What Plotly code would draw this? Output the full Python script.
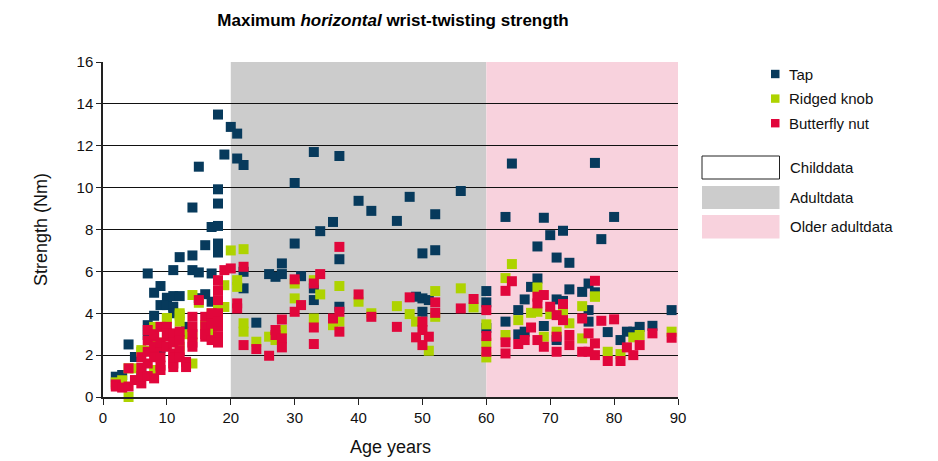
"""Maximum horizontal wrist-twisting strength by age, three grip types."""

import plotly.graph_objects as go

# --- data (age in years, strength in Nm) ---
tap_age = [2, 3, 4, 5, 6, 7, 7, 7, 8, 8, 9, 9, 9, 10, 10, 11, 11, 11, 11, 12, 12,
           13, 14, 14, 14, 15, 15, 15, 16, 16, 17, 17, 17, 18, 18, 18, 18, 18, 18, 19, 20,
           21, 21, 22, 22, 22, 24, 26, 27, 28, 28, 30, 30, 31, 33, 33, 33, 34, 36,
           37, 37, 37, 40, 42, 46, 48, 49, 50, 50, 50, 51, 52, 52, 56, 60, 60, 60,
           63, 63, 64, 65, 65, 66, 66, 67, 68, 68, 69, 69, 70, 71, 71, 71, 72, 72,
           73, 73, 75, 76, 76, 76, 77, 77, 78, 79, 80, 81, 82, 83, 84, 86, 89]
tap_val = [0.97, 1.05, 2.51, 1.91, 1.16, 3.43, 2.96, 5.9, 3.88, 4.98, 5.3, 4.39, 2.34, 4.74, 4.39,
           4.82, 4.31, 6.06, 4.0, 4.82, 6.68, 3.35, 9.05, 6.76, 6.06, 11.0, 5.95, 4.72, 7.25,
           4.91, 8.12, 5.9, 4.55, 13.49, 9.92, 9.24, 8.17, 7.33, 6.9, 11.58, 12.9,
           12.58, 11.39, 11.08, 5.98, 5.19, 3.55, 5.87, 5.74, 5.87, 6.38, 10.22, 7.33, 5.77,
           11.7, 5.19, 4.63, 7.92, 8.36, 11.51, 6.58, 4.31, 9.37, 8.89, 8.41, 9.56, 4.79,
           4.71, 6.86, 4.07, 4.63, 8.73, 7.01, 9.84, 5.06, 4.52, 3.3,
           8.6, 3.6, 11.15, 4.15, 2.99, 4.66, 3.12, 5.26, 7.19, 5.66, 8.56, 3.39, 7.73,
           6.66, 4.66, 2.72, 7.94, 4.59, 6.41, 5.14, 5.02, 5.42, 3.6, 4.15, 11.18, 5.0,
           7.54, 3.1, 8.6, 2.72, 3.12, 3.12, 3.35, 3.4, 4.15]

knob_age = [2, 3, 4, 4, 5, 6, 6, 7, 8, 8, 8, 9, 10, 10, 11, 12, 12, 12, 12, 13, 14, 14,
            14, 15, 16, 17, 17, 18, 19, 19, 20,
            21, 21, 22, 22, 22, 24, 26, 27, 28, 30, 30, 33, 33, 34, 36, 37, 37, 40,
            42, 46, 48, 49, 51, 52, 52, 56, 58, 60, 60, 60,
            63, 63, 64, 65, 67, 68, 68, 69, 70, 71, 72, 73, 75, 75, 77, 77, 79, 81,
            83, 84, 89]
knob_val = [0.7, 0.8, 1.37, 0.0, 1.37, 2.16, 2.24, 2.2, 3.35, 2.6, 1.29, 2.6, 3.75, 3.77,
            2.9, 3.9, 3.6, 4.0, 2.4, 3.0, 2.88, 1.6, 4.87, 4.5, 3.43, 4.0, 3.2, 4.31,
            5.34, 4.3, 7.0,
            5.58, 5.26, 7.06, 3.52, 3.12, 2.64, 2.88, 2.72, 3.2, 5.42, 4.71, 5.58, 3.75,
            4.9, 3.43, 5.3, 3.6, 4.55, 4.0, 4.34, 3.96, 3.6, 2.21, 5.06, 3.83, 5.19,
            4.28, 3.47, 2.59, 1.89,
            5.68, 2.96, 6.35, 3.67, 4.02, 5.23, 4.07, 2.88, 3.96, 3.12, 3.99, 3.52,
            4.34, 2.8, 4.79, 4.8, 2.16, 2.05, 2.85, 2.96, 3.12]

nut_age = [2, 2, 3, 4, 4, 5, 6, 6, 6, 6, 7, 7, 7, 7, 7, 8, 8, 8, 8, 8, 8, 9, 9, 9, 9, 9, 9,
           10, 10, 10, 10, 11, 11, 11, 11, 11, 11, 12, 12, 12, 12, 13, 13, 14, 14, 14, 14,
           14, 15, 16, 16, 16, 16, 17, 17, 17, 17, 18, 18, 18, 18, 18, 18, 18, 18, 19, 20,
           21, 21, 22, 22, 24, 26, 27, 27, 28, 28, 28, 30, 30, 31, 33, 33, 33, 34,
           36, 37, 37, 37, 40, 42, 46, 48, 49, 50, 50, 50, 51, 52, 52, 56, 58, 60,
           60, 60,
           63, 63, 63, 64, 65, 66, 67, 68, 68, 68, 69, 69, 70, 71, 71, 71, 72, 72,
           73, 73, 75, 75, 76, 76, 77, 77, 77, 78, 79, 80, 81, 82, 83, 84, 86, 89]
nut_val = [0.6, 0.5, 0.45, 0.5, 1.37, 0.81, 0.65, 1.9, 1.0, 1.4, 2.16, 1.6, 2.7, 3.2, 1.0,
           2.88, 2.16, 0.89, 2.4, 3.0, 1.9, 2.4, 1.29, 3.35, 2.6, 1.9, 1.5,
           3.35, 2.88, 2.4, 3.04, 3.04, 2.08, 1.6, 2.6, 1.43, 1.9, 3.12, 2.72, 2.24, 1.9,
           1.68, 1.43, 3.83, 3.35, 3.0, 2.6, 2.4, 4.63, 3.83, 3.35, 2.88, 3.0,
           3.83, 2.72, 4.0, 3.5, 5.58, 5.1, 4.63, 3.35, 2.88, 4.0, 3.6, 2.6, 6.06, 6.14,
           4.47, 4.23, 6.22, 2.48, 2.29, 1.97, 3.2, 2.96, 3.7, 2.8, 2.37, 5.62, 4.07,
           4.39, 5.42, 3.32, 2.53, 5.87, 3.75, 7.17, 4.07, 3.12, 4.9, 3.83, 3.35, 4.76,
           2.85, 3.6, 3.2, 2.48, 2.88, 4.52, 4.02, 4.23, 4.68, 4.15, 2.91, 2.16,
           5.07, 2.61, 2.08, 5.53, 2.53, 2.72, 3.32, 4.79, 4.47, 2.72, 4.87, 2.4, 4.31,
           3.91, 2.88, 2.16, 4.44, 3.67, 2.96, 2.48, 3.75, 2.16, 3.04, 2.16, 5.55, 2.56,
           2.0, 3.64, 1.72, 3.71, 1.72, 2.37, 2.0, 2.48, 3.04, 2.83]

groups = ["Childdata", "Adultdata", "Older adultdata"]
group_ranges = [(0, 20), (20, 60), (60, 90)]
group_fill = ["white", "#cccccc", "#f8d2dd"]

series = [
    ("Tap", tap_age, tap_val, "#073a5c"),
    ("Ridged knob", knob_age, knob_val, "#aed300"),
    ("Butterfly nut", nut_age, nut_val, "#e1063b"),
]

FONT = "Liberation Sans, Arial, Helvetica, sans-serif"
OFF = 8  # page body margin
W, H = 938, 461
PL, PT, PW, PH = 103, 62, 575, 335  # plot area in page pixels
L, T = PL - OFF, PT - OFF
R, B = W - L - PW, H - T - PH


def px(x):
    return (x - PL) / PW


def py(y):
    return (PT + PH - y) / PH


fig = go.Figure()
for name, ages, vals, color in series:
    fig.add_trace(go.Scatter(
        x=ages, y=vals, mode="markers", name=name, showlegend=False,
        marker=dict(symbol="square", size=10, color=color, line=dict(width=0)),
        cliponaxis=False,
    ))

# age-group background bands
for (x0, x1), fill in zip(group_ranges, group_fill):
    if fill == "white":
        continue
    fig.add_shape(type="rect", xref="x", yref="y", x0=x0, x1=x1, y0=0, y1=16,
                  fillcolor=fill, line=dict(width=0), layer="below")

# marker legend
for i, (name, _, _, color) in enumerate(series):
    cy = 74 + i * 24.6
    fig.add_shape(type="rect", xref="paper", yref="paper",
                  x0=px(771), x1=px(779.5), y0=py(cy - 4.2), y1=py(cy + 4.2),
                  fillcolor=color, line=dict(width=0))
    fig.add_annotation(text=name, xref="paper", yref="paper", x=px(787), y=py(cy),
                       xanchor="left", yanchor="middle", showarrow=False,
                       font=dict(size=15, color="#111"))

# band legend
box_y = [(156, 179), (186, 209), (215, 238.5)]
for name, fill, (y0, y1) in zip(groups, group_fill, box_y):
    fig.add_shape(type="rect", xref="paper", yref="paper",
                  x0=px(702), x1=px(779.5), y0=py(y1), y1=py(y0), fillcolor=fill,
                  line=dict(width=1 if fill == "white" else 0, color="#222"))
    fig.add_annotation(text=name, xref="paper", yref="paper", x=px(788),
                       y=py((y0 + y1) / 2), xanchor="left", yanchor="middle",
                       showarrow=False, font=dict(size=15, color="#111"))

fig.update_layout(
    width=W, height=H,
    margin=dict(l=L, r=R, t=T, b=B),
    paper_bgcolor="white", plot_bgcolor="white",
    font=dict(family=FONT, size=15, color="#111"),
    title=dict(text="<b>Maximum <i>horizontal</i> wrist-twisting strength</b>",
               x=px(393), xref="paper", xanchor="center",
               y=1 - (20 - OFF) / H, yanchor="middle", font=dict(size=17, color="#000")),
    xaxis=dict(range=[0, 90], dtick=10, showgrid=False, zeroline=False,
               showline=True, linecolor="#222", linewidth=1.5,
               ticks="outside", ticklen=6, tickcolor="#222",
               title=dict(text="Age years", standoff=16)),
    yaxis=dict(range=[0, 16], dtick=2, showgrid=True, gridcolor="#111", gridwidth=1,
               zeroline=False, showline=True, linecolor="#222", linewidth=1.5,
               ticks="outside", ticklen=5, tickcolor="#222",
               title=dict(text="Strength (Nm)", standoff=24)),
)

fig.write_html("out.html")
